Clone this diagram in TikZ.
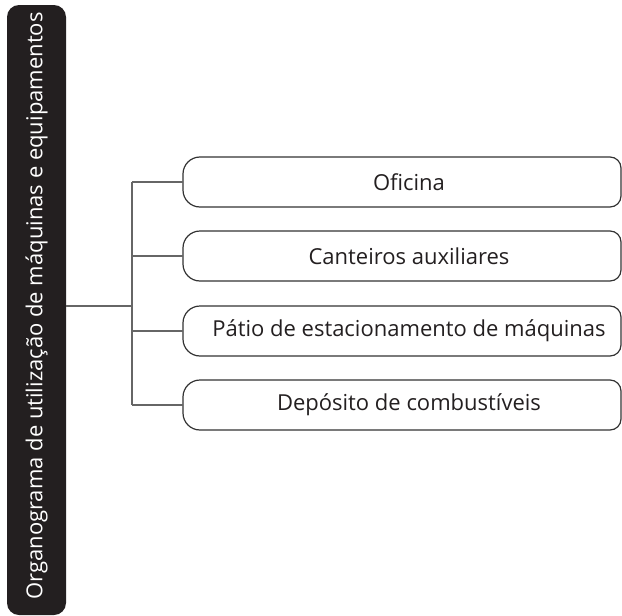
\documentclass[tikz,border=0pt]{standalone}
\usepackage{fontspec}
\setmainfont{Open Sans}
\definecolor{barblack}{HTML}{231F20}
\definecolor{linegray}{HTML}{666666}
\definecolor{boxline}{HTML}{333333}
\definecolor{txt}{HTML}{231F20}
\begin{document}
\begin{tikzpicture}[x=1pt,y=-1pt,
  conn/.style={draw=linegray,line width=1.1pt},
  boxtxt/.style={font=\fontsize{22}{26}\selectfont,text=txt,anchor=center}]
\useasboundingbox (0,0) rectangle (622,616);
% left bar
\fill[barblack,rounded corners=12pt] (7,5) rectangle (66,615);
\node[rotate=90,text=white,font=\fontsize{22}{26}\selectfont] (title) at (36.5,306) {Organograma de utilização de máquinas e equipamentos};
\coordinate (barR) at (66,306);
\coordinate (trunkTop) at (132,182);
\coordinate (trunkMid) at (132,306);
\coordinate (trunkBot) at (132,405);
% boxes
\foreach \n/\c/\t in {b1/182/Oficina, b2/256/Canteiros auxiliares, b3/331/Pátio de estacionamento de máquinas, b4/405/Depósito de combustíveis}{
  \draw[boxline,line width=1.2pt]
    (200,\c-25) -- (610,\c-25) arc[start angle=-90,end angle=0,radius=11] -- (621,\c+14)
    arc[start angle=0,end angle=90,radius=11] -- (200,\c+25)
    arc[start angle=90,end angle=180,radius=17] -- (183,\c-8)
    arc[start angle=180,end angle=270,radius=17] -- cycle;
  \coordinate (\n) at (183,\c);
  \node[boxtxt] (\n t) at (409,\c) {\t};
}
\draw[conn] (barR) -- (trunkMid);
\draw[conn] (trunkTop) -- (trunkBot);
\draw[conn] (trunkTop) -- (b1);
\draw[conn] (132,256) -- (b2);
\draw[conn] (132,331) -- (b3);
\draw[conn] (trunkBot) -- (b4);
\end{tikzpicture}
\end{document}
